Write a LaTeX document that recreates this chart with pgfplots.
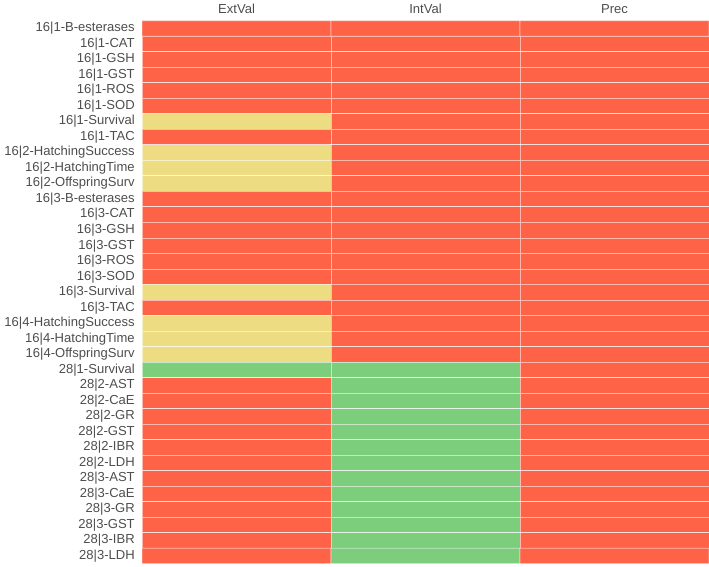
\documentclass[border=0pt]{standalone}
\usepackage{pgfplots}
\pgfplotsset{compat=1.18}
\usepackage{fontspec}
\setmainfont{Liberation Sans}
\definecolor{lbl}{RGB}{77,77,77}
\begin{document}
\begin{tikzpicture}
\begin{axis}[
    scale only axis,
    width=426pt, height=408pt,
    xmin=-0.5, xmax=2.5, ymin=-0.5, ymax=34.5,
    y dir=reverse,
    axis line style={draw=none},
    tick style={draw=none},
    xtick={0,1,2}, xticklabels={ExtVal,IntVal,Prec},
    xticklabel pos=top,
    xticklabel style={yshift=1.5pt},
    ytick={0,...,34},
    yticklabels={16|1-B-esterases,16|1-CAT,16|1-GSH,16|1-GST,16|1-ROS,16|1-SOD,16|1-Survival,16|1-TAC,
      16|2-HatchingSuccess,16|2-HatchingTime,16|2-OffspringSurv,
      16|3-B-esterases,16|3-CAT,16|3-GSH,16|3-GST,16|3-ROS,16|3-SOD,16|3-Survival,16|3-TAC,
      16|4-HatchingSuccess,16|4-HatchingTime,16|4-OffspringSurv,
      28|1-Survival,28|2-AST,28|2-CaE,28|2-GR,28|2-GST,28|2-IBR,28|2-LDH,
      28|3-AST,28|3-CaE,28|3-GR,28|3-GST,28|3-IBR,28|3-LDH},
    yticklabel style={xshift=-2pt},
    ticklabel style={font=\fontsize{9.8}{11}\selectfont, text=lbl},
    colormap={hm}{rgb255=(255,99,71) rgb255=(238,220,130) rgb255=(124,205,124)},
    colormap access=direct,
]
% 0 = red, 1 = yellow, 2 = green ; columns ExtVal, IntVal, Prec
\addplot[matrix plot*, mesh/cols=3, point meta=explicit,
    draw=white, draw opacity=0.55, line width=0.6pt] coordinates {
(0,0)[0] (1,0)[0] (2,0)[0]
(0,1)[0] (1,1)[0] (2,1)[0]
(0,2)[0] (1,2)[0] (2,2)[0]
(0,3)[0] (1,3)[0] (2,3)[0]
(0,4)[0] (1,4)[0] (2,4)[0]
(0,5)[0] (1,5)[0] (2,5)[0]
(0,6)[1] (1,6)[0] (2,6)[0]
(0,7)[0] (1,7)[0] (2,7)[0]
(0,8)[1] (1,8)[0] (2,8)[0]
(0,9)[1] (1,9)[0] (2,9)[0]
(0,10)[1] (1,10)[0] (2,10)[0]
(0,11)[0] (1,11)[0] (2,11)[0]
(0,12)[0] (1,12)[0] (2,12)[0]
(0,13)[0] (1,13)[0] (2,13)[0]
(0,14)[0] (1,14)[0] (2,14)[0]
(0,15)[0] (1,15)[0] (2,15)[0]
(0,16)[0] (1,16)[0] (2,16)[0]
(0,17)[1] (1,17)[0] (2,17)[0]
(0,18)[0] (1,18)[0] (2,18)[0]
(0,19)[1] (1,19)[0] (2,19)[0]
(0,20)[1] (1,20)[0] (2,20)[0]
(0,21)[1] (1,21)[0] (2,21)[0]
(0,22)[2] (1,22)[2] (2,22)[0]
(0,23)[0] (1,23)[2] (2,23)[0]
(0,24)[0] (1,24)[2] (2,24)[0]
(0,25)[0] (1,25)[2] (2,25)[0]
(0,26)[0] (1,26)[2] (2,26)[0]
(0,27)[0] (1,27)[2] (2,27)[0]
(0,28)[0] (1,28)[2] (2,28)[0]
(0,29)[0] (1,29)[2] (2,29)[0]
(0,30)[0] (1,30)[2] (2,30)[0]
(0,31)[0] (1,31)[2] (2,31)[0]
(0,32)[0] (1,32)[2] (2,32)[0]
(0,33)[0] (1,33)[2] (2,33)[0]
(0,34)[0] (1,34)[2] (2,34)[0]
};
\end{axis}
\end{tikzpicture}
\end{document}
